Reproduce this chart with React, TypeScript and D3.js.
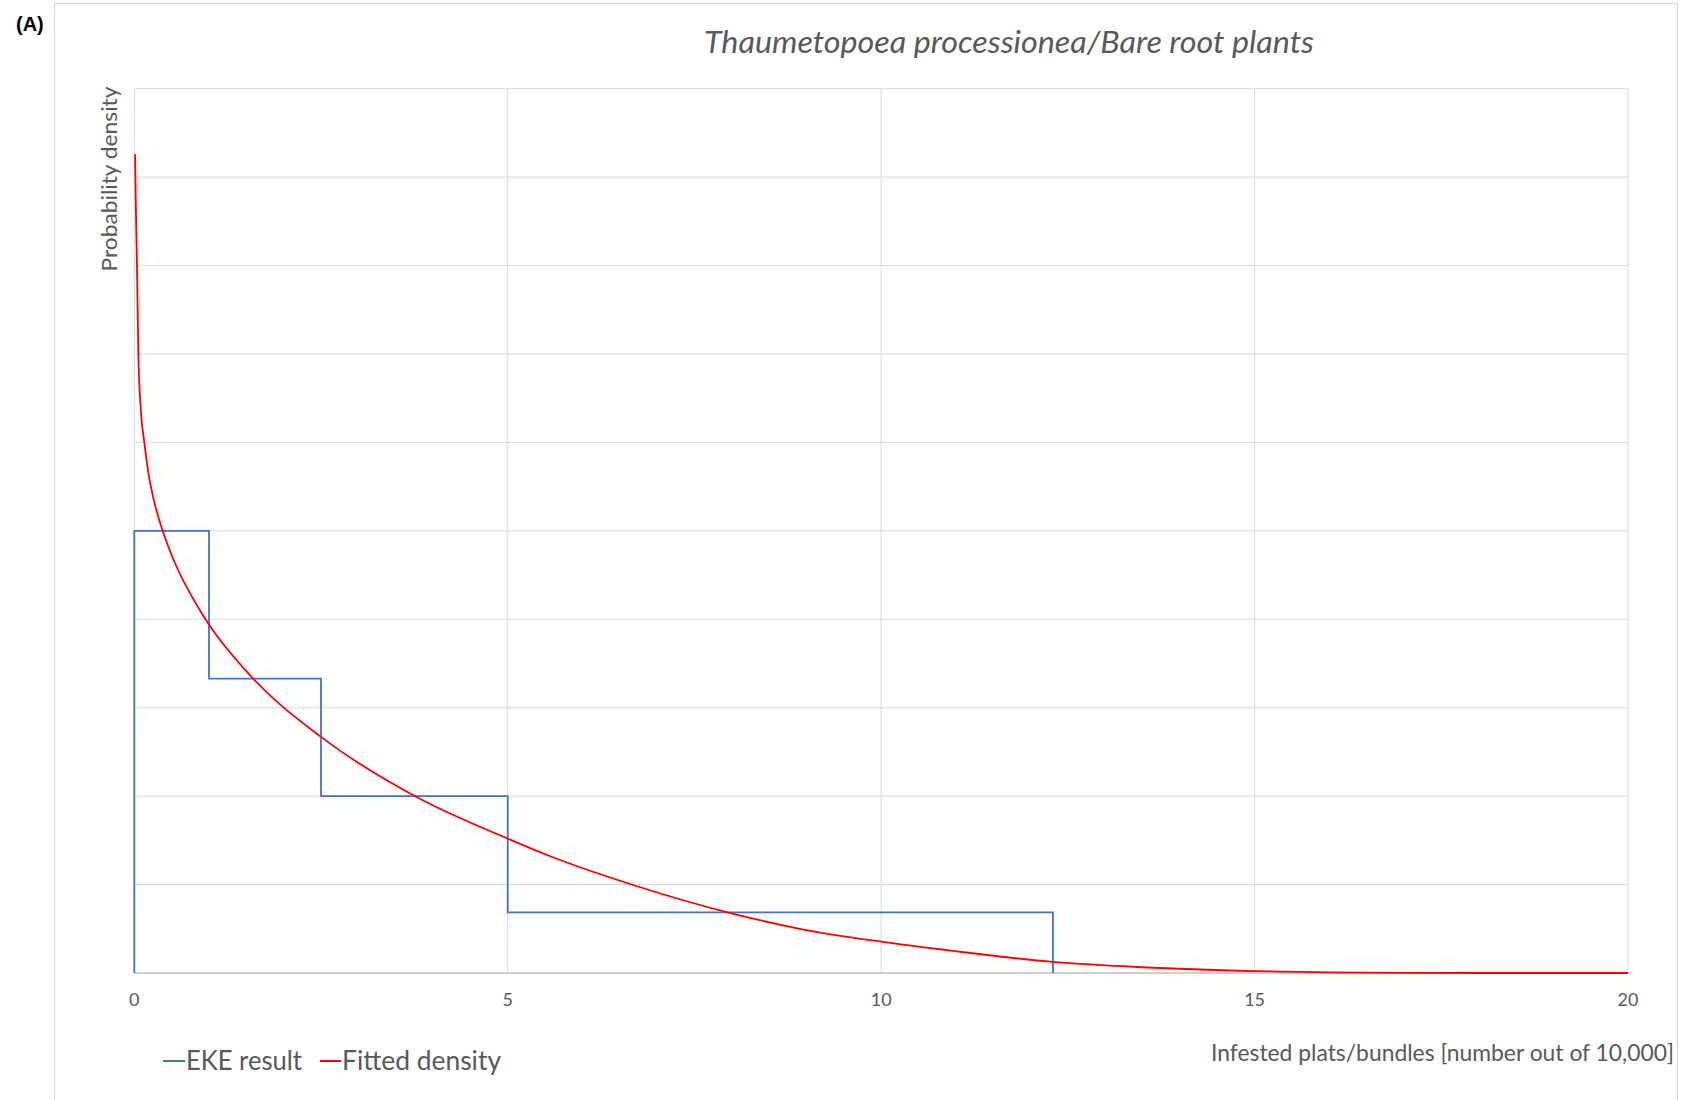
import React from "react";
import * as d3 from "d3";

// ---- Data ----
const binEdges = [0, 1, 2.5, 5, 12.3];
const binDensity = [5, 3.33, 2, 0.685];

const fitX = [0.01, 0.02, 0.036, 0.054, 0.085, 0.134, 0.19, 0.25, 0.38, 0.527, 0.88, 1.0, 1.59, 2.5, 3.78, 5.0, 5.57, 6.68, 7.97, 8.91, 10.0, 11.14, 12.26, 13.5, 15, 16, 17, 18, 20];
const fitY = [9.26, 8.7, 8.0, 7.0, 6.4, 6.0, 5.65, 5.39, 5.0, 4.67, 4.1, 3.94, 3.33, 2.67, 1.99, 1.52, 1.32, 0.995, 0.68, 0.5, 0.354, 0.232, 0.128, 0.065, 0.022, 0.007, 0.002, 0.0, 0.0];

const xTicks = [0, 5, 10, 15, 20];
const yGrid = [1, 2, 3, 4, 5, 6, 7, 8, 9, 10];

const title = "Thaumetopoea processionea/Bare root plants";
const yLabel = "Probability density";
const xLabel = "Infested plats/bundles [number out of 10,000]";
const legendItems = [
  { label: "EKE result", color: "#4472C4" },
  { label: "Fitted density", color: "#FF0000" },
];

export default function App() {
  const W = 1689, H = 1100;
  const left = 134.3, right = 1628, top = 88.7, bottom = 973;
  const x = d3.scaleLinear().domain([0, 20]).range([left, right]);
  const y = d3.scaleLinear().domain([0, 10]).range([bottom, top]);

  const stepPts: [number, number][] = [[binEdges[0], 0]];
  binDensity.forEach((d, i) => {
    stepPts.push([binEdges[i], d]);
    stepPts.push([binEdges[i + 1], d]);
  });
  stepPts.push([binEdges[binEdges.length - 1], 0]);
  const stepLine = d3.line<[number, number]>().x(d => x(d[0])).y(d => y(d[1]));

  const fitPts: [number, number][] = fitX.map((v, i) => [v, fitY[i]]);
  const fitLine = d3.line<[number, number]>().x(d => x(d[0])).y(d => y(d[1])).curve(d3.curveMonotoneX);

  const textColor = "#595959";
  const font = "Lato, 'Open Sans', sans-serif";

  return (
    <svg width={W} height={H} style={{ position: "absolute", left: 0, top: 0, background: "#fff" }}>
      <rect x={0} y={0} width={W} height={H} fill="#fff" />
      {/* outer chart border */}
      <rect x={54.5} y={3.5} width={1623} height={1110} fill="none" stroke="#d9d9d9" strokeWidth={1} />
      <text x={16} y={31} fontFamily="'Liberation Sans', Arial, sans-serif" fontWeight="bold" fontSize={20} fill="#000">(A)</text>

      {/* gridlines */}
      {yGrid.map(g => (
        <line key={"h" + g} x1={left} x2={right} y1={y(g)} y2={y(g)} stroke="#d9d9d9" strokeWidth={1} />
      ))}
      {xTicks.map(t => (
        <line key={"v" + t} x1={x(t)} x2={x(t)} y1={top} y2={bottom} stroke="#d9d9d9" strokeWidth={1} />
      ))}
      <line x1={left} x2={right} y1={bottom} y2={bottom} stroke="#bfbfbf" strokeWidth={1.3} />

      {/* series */}
      <path d={stepLine(stepPts) || ""} fill="none" stroke="#4472C4" strokeWidth={1.8} />
      <path d={fitLine(fitPts) || ""} fill="none" stroke="#FF0000" strokeWidth={1.8} />

      {/* tick labels */}
      {xTicks.map(t => (
        <text key={"t" + t} x={x(t)} y={1006} textAnchor="middle" fontFamily={font} fontSize={18} fill={textColor}>{t}</text>
      ))}

      {/* title */}
      <text x={1009} y={53} textAnchor="middle" fontFamily={font} fontStyle="italic" fontSize={30} fill={textColor}
        textLength={610} lengthAdjust="spacingAndGlyphs">{title}</text>

      {/* y label */}
      <text transform="translate(117,179) rotate(-90)" textAnchor="middle" fontFamily={font} fontSize={22} fill={textColor}
        textLength={185} lengthAdjust="spacingAndGlyphs">{yLabel}</text>

      {/* x label */}
      <text x={1674} y={1061} textAnchor="end" fontFamily={font} fontSize={23} fill={textColor}
        textLength={463} lengthAdjust="spacingAndGlyphs">{xLabel}</text>

      {/* legend */}
      <g>
        <line x1={163} x2={185} y1={1061} y2={1061} stroke={legendItems[0].color} strokeWidth={2} />
        <text x={186} y={1070} fontFamily={font} fontSize={27} fill={textColor} textLength={116} lengthAdjust="spacingAndGlyphs">{legendItems[0].label}</text>
        <line x1={320} x2={341} y1={1061} y2={1061} stroke={legendItems[1].color} strokeWidth={2} />
        <text x={342} y={1070} fontFamily={font} fontSize={27} fill={textColor} textLength={159} lengthAdjust="spacingAndGlyphs">{legendItems[1].label}</text>
      </g>
    </svg>
  );
}
